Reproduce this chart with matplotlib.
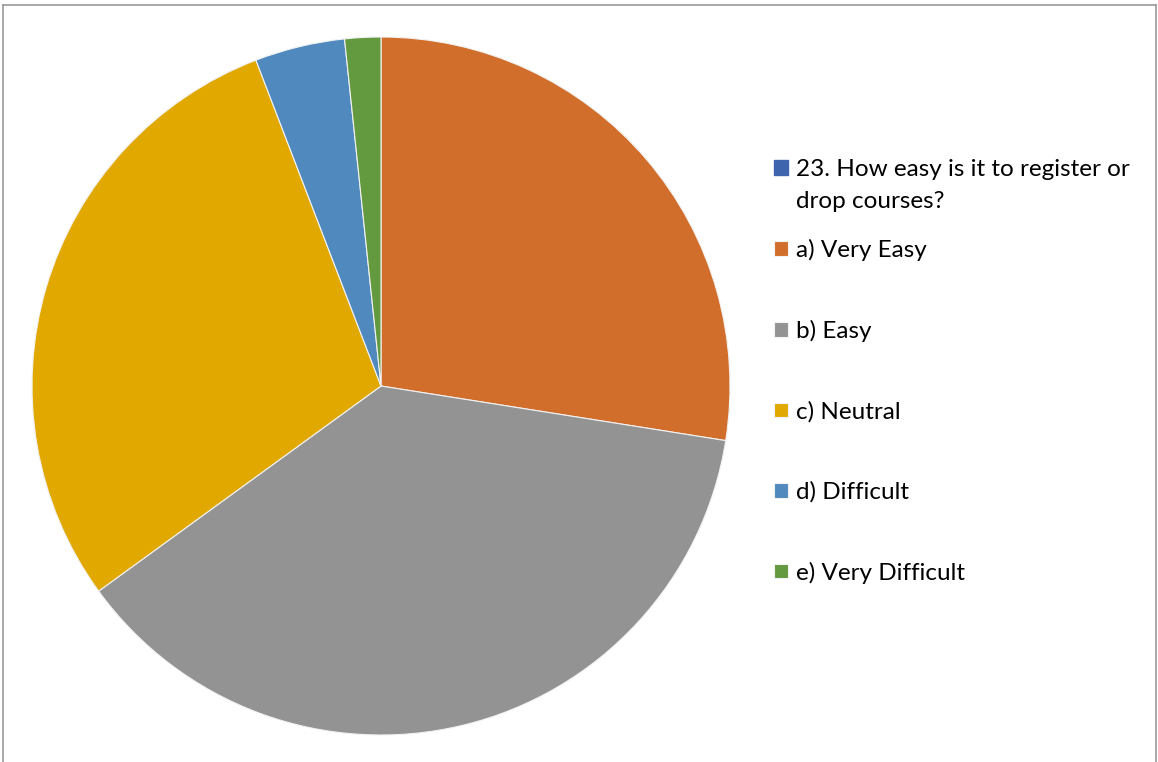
import matplotlib.pyplot as plt
from matplotlib.patches import Patch
from matplotlib.lines import Line2D

# survey question 23, response counts
question = ["23. How easy is it to register or", "drop courses?"]
answers = ["a) Very Easy", "b) Easy", "c) Neutral", "d) Difficult", "e) Very Difficult"]
counts = [33, 45, 35, 5, 2]
colors = ["#D26E2B", "#939393", "#E1A800", "#4F89BE", "#63993F"]
series_color = "#3F64AE"

plt.rcParams["font.family"] = ["Lato", "DejaVu Sans"]

W, H = 1158, 762
fig = plt.figure(figsize=(W / 100, H / 100), dpi=100)

# pie centre (381, 386) px, radius 349 px
cx, cy, r = 381, H - 386, 349
ax = fig.add_axes([(cx - r) / W, (cy - r) / H, 2 * r / W, 2 * r / H])
wedges, _ = ax.pie(counts, colors=colors, startangle=90, counterclock=False,
                   radius=1, wedgeprops=dict(edgecolor="#f2f2f2", linewidth=0.8))
ax.set_xlim(-1, 1)
ax.set_ylim(-1, 1)
ax.set_aspect("equal")
ax.axis("off")

fs = 17.5
# series entry on its own, handle next to the first line only
leg1 = fig.legend([Patch(color=series_color)], [question[0]], loc="upper left",
                  bbox_to_anchor=(762 / W, 1 - 147 / H), frameon=False,
                  fontsize=fs, handlelength=0.55, handleheight=0.55,
                  handletextpad=0.33, borderpad=0)
fig.canvas.draw()
tb = leg1.get_texts()[0].get_window_extent()
fig.text(tb.x0 / W, (tb.y0 - 32) / H, question[1], fontsize=fs, ha="left", va="bottom")

leg2 = fig.legend(wedges, answers, loc="upper left",
                  bbox_to_anchor=(762 / W, 1 - 227 / H), frameon=False,
                  fontsize=fs, handlelength=0.55, handleheight=0.55,
                  handletextpad=0.33, borderpad=0, labelspacing=2.42)

# chart area border (left, top, right)
fc = "#9a9a9a"
fig.add_artist(Line2D([3 / W, 3 / W], [0, 1 - 5 / H], color=fc, lw=1.2, transform=fig.transFigure))
fig.add_artist(Line2D([3 / W, 1156 / W], [1 - 5 / H, 1 - 5 / H], color=fc, lw=1.2, transform=fig.transFigure))
fig.add_artist(Line2D([1156 / W, 1156 / W], [0, 1 - 5 / H], color=fc, lw=1.2, transform=fig.transFigure))

fig.savefig("out.png", dpi=100)
